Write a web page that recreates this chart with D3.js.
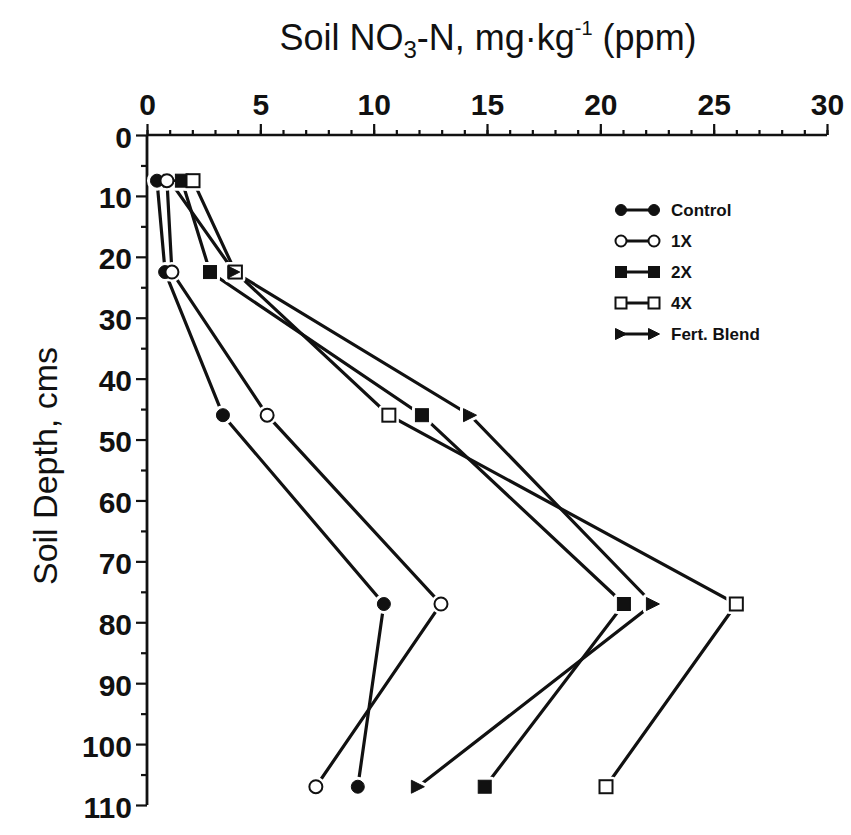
<!DOCTYPE html>
<html>
<head>
<meta charset="utf-8">
<script src="https://cdn.jsdelivr.net/npm/d3@7/dist/d3.min.js"></script>
<style>
  html, body { margin: 0; padding: 0; background: #fff; }
  svg { display: block; }
  text { fill: #111; }
</style>
</head>
<body>
<svg id="chart" width="851" height="835"></svg>
<script>
// ---- data ----
const depths = [7.5, 22.5, 46, 77, 107];
const control = [0.44, 0.8, 3.35, 10.45, 9.3];
const x1 = [0.88, 1.1, 5.3, 12.97, 7.45];
const x2 = [1.54, 2.78, 12.13, 21.04, 14.9];
const x4 = [2.03, 3.9, 10.67, 26.0, 20.25];
const fert = [1.0, 3.85, 14.25, 22.32, 11.95];
const seriesNames = ["Control", "1X", "2X", "4X", "Fert. Blend"];
const xTickValues = [0, 5, 10, 15, 20, 25, 30];
const yTickValues = [0, 10, 20, 30, 40, 50, 60, 70, 80, 90, 100, 110];

const series = [
  { name: seriesNames[0], values: control, shape: "circle", filled: true },
  { name: seriesNames[1], values: x1, shape: "circle", filled: false },
  { name: seriesNames[2], values: x2, shape: "square", filled: true },
  { name: seriesNames[3], values: x4, shape: "square", filled: false },
  { name: seriesNames[4], values: fert, shape: "triangle", filled: true }
];

const svg = d3.select("#chart");
const x = d3.scaleLinear().domain([0, 30]).range([147, 827]);
const y = d3.scaleLinear().domain([0, 110]).range([135, 805]);
const ink = "#111";
const font = "Liberation Sans, Arial, Helvetica, sans-serif";

// ---- axes ----
const gx = svg.append("g").attr("transform", `translate(0,${y(0)})`);
gx.call(d3.axisTop(x).tickValues(d3.range(0, 31, 1)).tickSize(5).tickSizeOuter(0).tickFormat(""));
gx.select(".domain").remove();
const gx2 = svg.append("g").attr("transform", `translate(0,${y(0)})`);
gx2.call(d3.axisTop(x).tickValues(xTickValues).tickSize(11).tickSizeOuter(0).tickPadding(9));
gx2.select(".domain").remove();

const gy = svg.append("g").attr("transform", `translate(${x(0)},0)`);
gy.call(d3.axisLeft(y).tickValues(d3.range(5, 110, 10)).tickSize(6).tickSizeOuter(0).tickFormat(""));
gy.select(".domain").remove();
const gy2 = svg.append("g").attr("transform", `translate(${x(0)},0)`);
gy2.call(d3.axisLeft(y).tickValues(yTickValues).tickSize(11).tickSizeOuter(0).tickPadding(4));
gy2.select(".domain").remove();

svg.selectAll(".tick line").attr("stroke", ink).attr("stroke-width", 2.2);
svg.selectAll(".tick text")
  .attr("font-family", font)
  .attr("font-weight", "bold")
  .attr("font-size", 30)
  .attr("fill", ink);
gy2.selectAll(".tick text").attr("dy", "0.4em");

// axis lines
svg.append("line").attr("x1", x(0)).attr("x2", x(30)).attr("y1", y(0)).attr("y2", y(0))
  .attr("stroke", ink).attr("stroke-width", 2.5);
svg.append("line").attr("x1", x(0)).attr("x2", x(0)).attr("y1", y(0)).attr("y2", y(110))
  .attr("stroke", ink).attr("stroke-width", 2.8);

// ---- titles ----
const title = svg.append("text")
  .attr("x", 488).attr("y", 50)
  .attr("text-anchor", "middle")
  .attr("font-family", font)
  .attr("font-size", 36);
title.append("tspan").text("Soil NO");
title.append("tspan").text("3").attr("font-size", 24).attr("dy", 8);
title.append("tspan").text("-N, mg·kg").attr("dy", -8);
title.append("tspan").text("-1").attr("font-size", 20).attr("dy", -15);
title.append("tspan").text(" (ppm)").attr("dy", 15);

svg.append("text")
  .attr("transform", "translate(57,466) rotate(-90)")
  .attr("text-anchor", "middle")
  .attr("font-family", font)
  .attr("font-size", 34)
  .text("Soil Depth, cms");

// ---- marker helpers ----
function drawMarker(g, cx, cy, s, size, halo) {
  const r = size / 2;
  let el;
  if (s.shape === "circle") {
    el = g.append("circle").attr("cx", cx).attr("cy", cy).attr("r", r);
  } else if (s.shape === "square") {
    el = g.append("rect").attr("x", cx - r).attr("y", cy - r).attr("width", size).attr("height", size);
  } else {
    el = g.append("path").attr("d", `M${cx - r},${cy - r}L${cx + r},${cy}L${cx - r},${cy + r}Z`);
  }
  if (halo) {
    el.attr("fill", "#fff").attr("stroke", "#fff").attr("stroke-width", halo).attr("stroke-linejoin", "round");
  } else {
    el.attr("fill", s.filled ? ink : "#fff").attr("stroke", ink).attr("stroke-width", s.filled ? 1 : 2);
  }
}

// ---- lines ----
const line = d3.line().x(d => x(d[0])).y(d => y(d[1]));
const plot = svg.append("g");
series.forEach(s => {
  const pts = s.values.map((v, i) => [v, depths[i]]);
  plot.append("path").attr("d", line(pts)).attr("fill", "none")
    .attr("stroke", ink).attr("stroke-width", 3.2);
});
// halos
series.forEach(s => {
  s.values.forEach((v, i) => drawMarker(plot, x(v), y(depths[i]), s, 13, 7));
});
// markers
[series[4], series[0], series[2], series[1], series[3]].forEach(s => {
  s.values.forEach((v, i) => drawMarker(plot, x(v), y(depths[i]), s, 13, 0));
});
// fert triangle inside the open square at the second depth
drawMarker(plot, x(fert[1]), y(depths[1]), series[4], 11, 0);

// ---- legend ----
const legend = svg.append("g");
const legY = [210, 241, 272, 303, 334];
series.forEach((s, i) => {
  const ly = legY[i];
  legend.append("line").attr("x1", 622).attr("x2", 652).attr("y1", ly).attr("y2", ly)
    .attr("stroke", ink).attr("stroke-width", 3);
  drawMarker(legend, 621, ly, s, 11, 0);
  drawMarker(legend, 654, ly, s, 11, 0);
  legend.append("text").attr("x", 671).attr("y", ly).attr("dy", "0.36em")
    .attr("font-family", font)
    .attr("font-weight", "bold").attr("font-size", 17).attr("fill", ink)
    .text(s.name);
});
</script>
</body>
</html>
